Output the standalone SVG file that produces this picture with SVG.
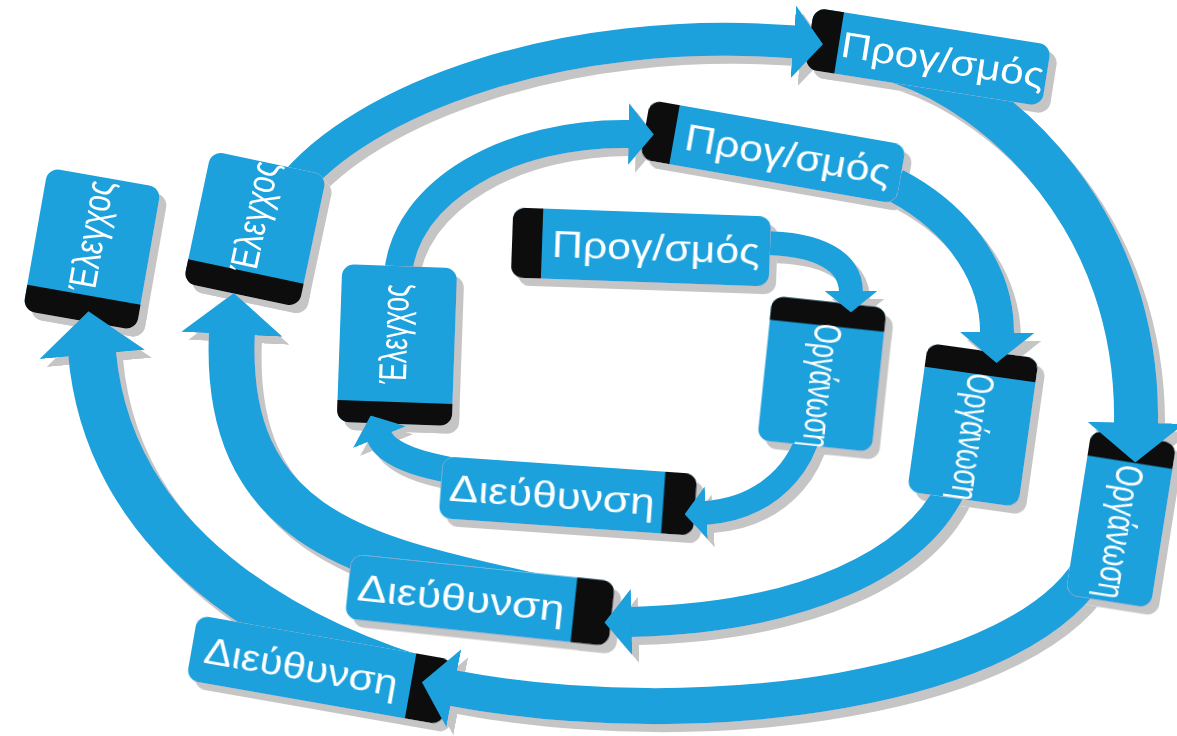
<svg xmlns="http://www.w3.org/2000/svg" width="1177" height="736" viewBox="0 0 1177 736">
<style>
.box{fill:#1aa1dc}
.cap{fill:#0b0b0b}
.lbl{fill:#ffffff;font-family:"Liberation Sans","DejaVu Sans",sans-serif;font-size:36px;text-anchor:middle}
.vl{font-size:39px}
.band{fill:none;stroke:#1aa1dc;stroke-linecap:butt;marker-end:url(#ah)}
</style>
<defs>
<marker id="ah" viewBox="0 0 9 22" refX="0.5" refY="11" markerWidth="0.9" markerHeight="2.2" orient="auto" markerUnits="strokeWidth"><path d="M0,0 L9,11 L0,22 Z" fill="#1aa1dc"/></marker>
<filter id="sh" filterUnits="userSpaceOnUse" x="0" y="0" width="1177" height="736"><feFlood flood-color="#c5c5c5"/><feComposite in2="SourceAlpha" operator="in"/><feOffset dx="7" dy="8" result="s"/><feMerge><feMergeNode in="s"/><feMergeNode in="SourceGraphic"/></feMerge></filter>
<mask id="m-inplan" maskUnits="userSpaceOnUse" x="0" y="0" width="1177" height="736"><rect width="1177" height="736" fill="#fff"/><rect x="-129" y="-35" width="258" height="70" rx="12" transform="translate(641,247) rotate(2)"/></mask>
<mask id="m-inorg" maskUnits="userSpaceOnUse" x="0" y="0" width="1177" height="736"><rect width="1177" height="736" fill="#fff"/><rect x="-57.5" y="-72.5" width="115" height="145" rx="12" transform="translate(822,374) rotate(6)"/></mask>
<mask id="m-indir" maskUnits="userSpaceOnUse" x="0" y="0" width="1177" height="736"><rect width="1177" height="736" fill="#fff"/><rect x="-127.5" y="-31" width="255" height="62" rx="12" transform="translate(568,496) rotate(4)"/></mask>
<mask id="m-inctrl" maskUnits="userSpaceOnUse" x="0" y="0" width="1177" height="736"><rect width="1177" height="736" fill="#fff"/><rect x="-57.5" y="-79" width="115" height="158" rx="12" transform="translate(397,345) rotate(2)"/></mask>
<mask id="m-midplan" maskUnits="userSpaceOnUse" x="0" y="0" width="1177" height="736"><rect width="1177" height="736" fill="#fff"/><rect x="-130" y="-30" width="260" height="60" rx="12" transform="translate(773,152) rotate(10)"/></mask>
<mask id="m-midorg" maskUnits="userSpaceOnUse" x="0" y="0" width="1177" height="736"><rect width="1177" height="736" fill="#fff"/><rect x="-56" y="-75" width="112" height="150" rx="12" transform="translate(973,425) rotate(8)"/></mask>
<mask id="m-middir" maskUnits="userSpaceOnUse" x="0" y="0" width="1177" height="736"><rect width="1177" height="736" fill="#fff"/><rect x="-132.5" y="-32.5" width="265" height="65" rx="12" transform="translate(480,600) rotate(6)"/></mask>
<mask id="m-midctrl" maskUnits="userSpaceOnUse" x="0" y="0" width="1177" height="736"><rect width="1177" height="736" fill="#fff"/><rect x="-59" y="-67.5" width="118" height="135" rx="12" transform="translate(255,229) rotate(12)"/></mask>
<mask id="m-outplan" maskUnits="userSpaceOnUse" x="0" y="0" width="1177" height="736"><rect width="1177" height="736" fill="#fff"/><rect x="-120" y="-31" width="240" height="62" rx="12" transform="translate(928,57) rotate(9)"/></mask>
<mask id="m-outorg" maskUnits="userSpaceOnUse" x="0" y="0" width="1177" height="736"><rect width="1177" height="736" fill="#fff"/><rect x="-43" y="-83.5" width="86" height="167" rx="12" transform="translate(1121,519) rotate(9)"/></mask>
<mask id="m-outdir" maskUnits="userSpaceOnUse" x="0" y="0" width="1177" height="736"><rect width="1177" height="736" fill="#fff"/><rect x="-130" y="-33" width="260" height="66" rx="12" transform="translate(320,670) rotate(10)"/></mask>
</defs>
<rect width="1177" height="736" fill="#ffffff"/>
<g id="diagram" filter="url(#sh)">
<g id="outer-plan" transform="translate(928,57) rotate(9)"><rect class="box" x="-120" y="-31" width="240" height="62" rx="12"/><path class="cap" d="M-90,-31 H-108 A12,12 0 0 0 -120,-19 V19 A12,12 0 0 0 -108,31 H-90 Z"/><text class="lbl" x="15" y="13" textLength="205" lengthAdjust="spacingAndGlyphs">Προγ/σμός</text></g>
<g id="outer-org" transform="translate(1121,519) rotate(9)"><rect class="box" x="-43" y="-83.5" width="86" height="167" rx="12"/><path class="cap" d="M-43,-57.5 V-71.5 A12,12 0 0 1 -31,-83.5 H31 A12,12 0 0 1 43,-71.5 V-57.5 Z"/><text class="lbl vl" transform="translate(0,13) rotate(90)" x="0" y="12" textLength="135" lengthAdjust="spacingAndGlyphs">Οργάνωση</text></g>
<g id="outer-dir" transform="translate(320,670) rotate(10)"><rect class="box" x="-130" y="-33" width="260" height="66" rx="12"/><path class="cap" d="M92,-33 H118 A12,12 0 0 1 130,-21 V21 A12,12 0 0 1 118,33 H92 Z"/><text class="lbl" x="-19" y="13" textLength="196" lengthAdjust="spacingAndGlyphs">Διεύθυνση</text></g>
<g id="outer-ctrl" transform="translate(92,249) rotate(10)"><rect class="box" x="-57.5" y="-72.5" width="115" height="145" rx="12"/><path class="cap" d="M-57.5,46.5 V60.5 A12,12 0 0 0 -45.5,72.5 H45.5 A12,12 0 0 0 57.5,60.5 V46.5 Z"/><text class="lbl vl" transform="translate(0,-13) rotate(-90)" x="0" y="10" textLength="112" lengthAdjust="spacingAndGlyphs">Έλεγχος</text></g>
<g id="mid-plan" transform="translate(773,152) rotate(10)"><rect class="box" x="-130" y="-30" width="260" height="60" rx="12"/><path class="cap" d="M-100,-30 H-118 A12,12 0 0 0 -130,-18 V18 A12,12 0 0 0 -118,30 H-100 Z"/><text class="lbl" x="15" y="13" textLength="208" lengthAdjust="spacingAndGlyphs">Προγ/σμός</text></g>
<g id="mid-org" transform="translate(973,425) rotate(8)"><rect class="box" x="-56" y="-75" width="112" height="150" rx="12"/><path class="cap" d="M-56,-51 V-63 A12,12 0 0 1 -44,-75 H44 A12,12 0 0 1 56,-63 V-51 Z"/><text class="lbl vl" transform="translate(0,12) rotate(90)" x="0" y="12" textLength="128" lengthAdjust="spacingAndGlyphs">Οργάνωση</text></g>
<g id="mid-dir" transform="translate(480,600) rotate(6)"><rect class="box" x="-132.5" y="-32.5" width="265" height="65" rx="12"/><path class="cap" d="M94.5,-32.5 H120.5 A12,12 0 0 1 132.5,-20.5 V20.5 A12,12 0 0 1 120.5,32.5 H94.5 Z"/><text class="lbl" x="-19" y="13" textLength="208" lengthAdjust="spacingAndGlyphs">Διεύθυνση</text></g>
<g id="mid-ctrl" transform="translate(255,229) rotate(12)"><rect class="box" x="-59" y="-67.5" width="118" height="135" rx="12"/><path class="cap" d="M-59,43.5 V55.5 A12,12 0 0 0 -47,67.5 H47 A12,12 0 0 0 59,55.5 V43.5 Z"/><text class="lbl vl" transform="translate(0,-12) rotate(-90)" x="0" y="10" textLength="112" lengthAdjust="spacingAndGlyphs">Έλεγχος</text></g>
<g id="in-plan" transform="translate(641,247) rotate(2)"><rect class="box" x="-129" y="-35" width="258" height="70" rx="12"/><path class="cap" d="M-99,-35 H-117 A12,12 0 0 0 -129,-23 V23 A12,12 0 0 0 -117,35 H-99 Z"/><text class="lbl" x="15" y="13" textLength="208" lengthAdjust="spacingAndGlyphs">Προγ/σμός</text></g>
<g id="in-org" transform="translate(822,374) rotate(6)"><rect class="box" x="-57.5" y="-72.5" width="115" height="145" rx="12"/><path class="cap" d="M-57.5,-48.5 V-60.5 A12,12 0 0 1 -45.5,-72.5 H45.5 A12,12 0 0 1 57.5,-60.5 V-48.5 Z"/><text class="lbl vl" transform="translate(0,12) rotate(90)" x="0" y="12" textLength="125" lengthAdjust="spacingAndGlyphs">Οργάνωση</text></g>
<g id="in-dir" transform="translate(568,496) rotate(4)"><rect class="box" x="-127.5" y="-31" width="255" height="62" rx="12"/><path class="cap" d="M95.5,-31 H115.5 A12,12 0 0 1 127.5,-19 V19 A12,12 0 0 1 115.5,31 H95.5 Z"/><text class="lbl" x="-16" y="13" textLength="206" lengthAdjust="spacingAndGlyphs">Διεύθυνση</text></g>
<g id="in-ctrl" transform="translate(397,345) rotate(2)"><rect class="box" x="-57.5" y="-79" width="115" height="158" rx="12"/><path class="cap" d="M-57.5,57 V67 A12,12 0 0 0 -45.5,79 H45.5 A12,12 0 0 0 57.5,67 V57 Z"/><text class="lbl vl" transform="translate(0,-11) rotate(-90)" x="0" y="10" textLength="100" lengthAdjust="spacingAndGlyphs">Έλεγχος</text></g>
<g id="connectors">
<path class="band" mask="url(#m-inplan)" stroke-width="24" d="M760,243 C820,243 851,262 851,292"/>
<path class="band" mask="url(#m-inorg)" stroke-width="24" d="M810,430 C797,480 755,510 705,513"/>
<path class="band" mask="url(#m-indir)" stroke-width="26" d="M480,475 C430,468 388,458 379,436"/>
<path class="band" mask="url(#m-inctrl)" stroke-width="28" d="M398,275 C405,190 510,132 630,134"/>
<path class="band" mask="url(#m-midplan)" stroke-width="34" d="M895,185 C965,222 998,280 997,334"/>
<path class="band" mask="url(#m-midorg)" stroke-width="30" d="M955,480 C920,565 800,618 630,622"/>
<path class="band" mask="url(#m-middir)" stroke-width="46" d="M540,598 C380,560 222,540 232,332"/>
<path class="band" mask="url(#m-midctrl)" stroke-width="33" d="M290,190 C360,100 560,24 795,42"/>
<path class="band" mask="url(#m-outplan)" stroke-width="44" d="M900,62 C1000,95 1140,220 1136,425"/>
<path class="band" mask="url(#m-outorg)" stroke-width="36" d="M1095,560 C1030,690 700,735 452,688"/>
<path class="band" mask="url(#m-outdir)" stroke-width="48" d="M445,688 C315,652 110,560 92,352"/>
</g>
</g>
</svg>
